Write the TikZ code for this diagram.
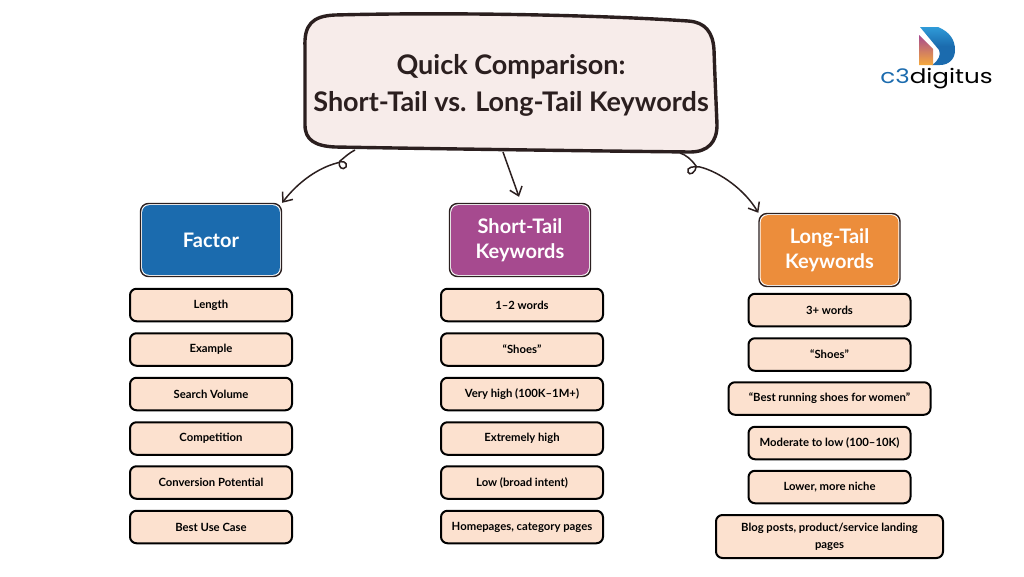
\documentclass[tikz,border=0pt]{standalone}
\usepackage{graphicx}
\usepackage{fontspec}
\setmainfont{Lato}
\newfontfamily\logofont{Poppins}
\usetikzlibrary{arrows.meta,calc}
\definecolor{inkc}{HTML}{2B1F1F}
\definecolor{rowfill}{HTML}{FCE1CF}
\definecolor{titlefill}{HTML}{F7ECEA}
\definecolor{bluec}{HTML}{1B6BAE}
\definecolor{lightblue}{HTML}{2F9BD8}
\definecolor{purplec}{HTML}{A64A8F}
\definecolor{orangec}{HTML}{EC8D3B}
\definecolor{goldc}{HTML}{F5A93C}
\tikzset{
  rowbox/.style={draw=black,line width=2pt,fill=rowfill,rounded corners=6.5pt,inner sep=0pt,
    minimum width=162pt,minimum height=32.5pt,align=center,text=black,
    font=\fontsize{11.3}{17}\selectfont\bfseries},
  headbox/.style={draw=inkc,line width=1.4pt,fill=white,rounded corners=8pt,inner sep=0pt,
    minimum width=141pt,minimum height=73pt,align=center,text=white,
    font=\fontsize{20}{25.5}\selectfont\bfseries,
    path picture={\fill[#1,rounded corners=7pt]
      ([shift={(1.7pt,1.7pt)}]path picture bounding box.south west) rectangle
      ([shift={(-1.7pt,-1.7pt)}]path picture bounding box.north east);}},
  conn/.style={draw=inkc,line width=1.5pt,-{Straight Barb[length=8pt,width=13pt,line width=1.5pt]}},
}
\begin{document}
\begin{tikzpicture}[x=1pt,y=-1pt]
\useasboundingbox (0,0) rectangle (1024,576);
% title
\draw[draw=inkc,line width=3.4pt,fill=titlefill,line join=round]
  (305,47) .. controls (304,25) and (312,16) .. (335,15)
  .. controls (450,12) and (600,15) .. (688,21)
  .. controls (705,22) and (713,32) .. (714,50)
  .. controls (715,80) and (716,100) .. (717,125)
  .. controls (717,142) and (708,152) .. (690,152)
  .. controls (600,151) and (450,149) .. (335,147)
  .. controls (315,146) and (305,140) .. (305,125) -- cycle;
\node[inner sep=0pt,align=center,text=inkc,font=\fontsize{27}{37}\selectfont\bfseries] (title) at (511,85)
  {Quick Comparison:\\Short-Tail vs. Long-Tail Keywords};
\coordinate (tl) at (355,150);
\coordinate (tm) at (503,152);
\coordinate (tr) at (680,153);
% heads
\node[headbox=bluec] (factor) at (211,240) {Factor};
\node[headbox=purplec] (short) at (520,240) {Short-Tail\\Keywords};
\node[headbox=orangec] (long) at (829.5,250) {Long-Tail\\Keywords};
% connectors
\draw[conn] (tl) .. controls (349,153) and (345,157) .. (340,161)
  .. controls (337,167) and (343,171) .. (346,167)
  .. controls (348,162) and (342,160) .. (337,163)
  .. controls (318,168) and (298,182) .. (factor.north east);
\draw[conn] (tm) -- ([shift={(-1pt,6pt)}]short.north);
\draw[conn] (tr) .. controls (686,155) and (691,159) .. (696,166)
  .. controls (696,173) and (689,176) .. (688,172)
  .. controls (686,167) and (694,166) .. (700,167)
  .. controls (720,172) and (745,190) .. (long.north west);
% column 1
\node[rowbox] (a1) at (211,305) {Length};
\node[rowbox] (a2) at (211,349.5) {Example};
\node[rowbox] (a3) at (211,394) {Search Volume};
\node[rowbox] (a4) at (211,438.5) {Competition};
\node[rowbox] (a5) at (211,482.5) {Conversion Potential};
\node[rowbox] (a6) at (211,527) {Best Use Case};
% column 2
\node[rowbox] (b1) at (522,305) {1--2 words};
\node[rowbox] (b2) at (522,349.5) {“Shoes”};
\node[rowbox] (b3) at (522,394) {Very high (100K--1M+)};
\node[rowbox] (b4) at (522,438.5) {Extremely high};
\node[rowbox] (b5) at (522,482.5) {Low (broad intent)};
\node[rowbox] (b6) at (522,527) {Homepages, category pages};
% column 3
\node[rowbox] (c1) at (829.5,310) {3+ words};
\node[rowbox] (c2) at (829.5,354.5) {“Shoes”};
\node[rowbox,minimum width=202pt] (c3) at (829.5,398.5) {“Best running shoes for women”};
\node[rowbox] (c4) at (829.5,443) {Moderate to low (100--10K)};
\node[rowbox] (c5) at (829.5,487) {Lower, more niche};
\node[rowbox,minimum width=227pt,minimum height=43pt] (c6) at (829.5,536.5) {Blog posts, product/service landing\\pages};
% logo
\shade[top color=lightblue,bottom color=bluec,middle color=bluec] (920,27) -- (938,27) .. controls (950,32) and (955,40) .. (955,50)
  .. controls (955,59) and (949,65) .. (940,65) -- (932,65)
  .. controls (939,60) and (941,55) .. (939,50) -- cycle;
\shade[left color=orangec,right color=purplec,shading angle=0,top color=purplec,bottom color=goldc] (919,35) -- (933,49) -- (933,65) -- (919,65) -- cycle;
\node[inner sep=0pt,font=\logofont\fontsize{20}{22}\selectfont] (logo) at (936.5,79)
  {\scalebox{1.23}[1]{\textcolor{bluec}{c3}\textcolor{black}{digitus}}};
\end{tikzpicture}
\end{document}
